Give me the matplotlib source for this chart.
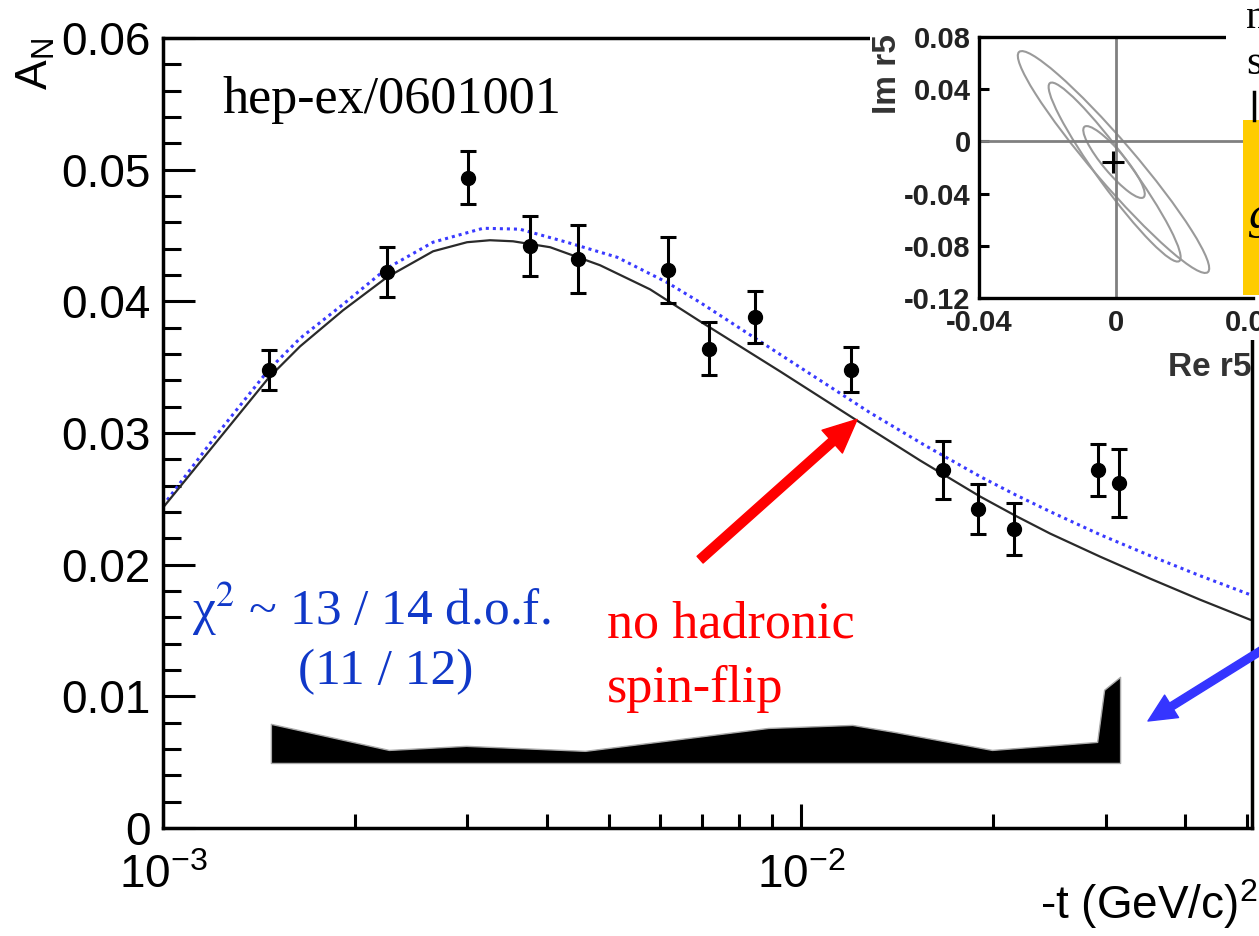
import matplotlib
matplotlib.use("Agg")
import matplotlib.pyplot as plt
from matplotlib.patches import Rectangle, Ellipse
from matplotlib.transforms import ScaledTranslation
from matplotlib.ticker import MultipleLocator, LogLocator, NullFormatter, FuncFormatter
from matplotlib.lines import Line2D

plt.rcParams['font.family'] = ['Liberation Sans', 'DejaVu Sans']
plt.rcParams['mathtext.fontset'] = 'custom'
plt.rcParams['mathtext.rm'] = 'Liberation Sans'
plt.rcParams['mathtext.it'] = 'Liberation Sans:italic'
plt.rcParams['mathtext.bf'] = 'Liberation Sans:bold'

# measured A_N vs -t
t_data = [1.466e-3, 2.244e-3, 3.006e-3, 3.76e-3, 4.47e-3, 6.19e-3, 7.18e-3,
          8.47e-3, 1.198e-2, 1.669e-2, 1.894e-2, 2.158e-2, 2.92e-2, 3.15e-2]
an_data = [0.0348, 0.0422, 0.0494, 0.0442, 0.0432, 0.0424, 0.0364,
           0.0388, 0.0348, 0.0272, 0.0242, 0.0227, 0.0272, 0.0262]
an_err = [0.0015, 0.0019, 0.0020, 0.0023, 0.0026, 0.0025, 0.0020,
          0.0020, 0.0017, 0.0022, 0.0019, 0.0020, 0.0020, 0.0026]

# CNI prediction without hadronic spin-flip
t_cni = [1.000e-3, 1.211e-3, 1.466e-3, 1.640e-3, 1.915e-3, 2.244e-3, 2.650e-3,
         2.996e-3, 3.254e-3, 3.537e-3, 4.043e-3, 4.842e-3, 5.799e-3, 6.946e-3,
         9.270e-3, 1.237e-2, 1.537e-2, 1.909e-2, 2.165e-2, 2.457e-2, 2.942e-2,
         3.524e-2, 4.220e-2, 5.056e-2]
an_cni = [0.02433, 0.02928, 0.03422, 0.03658, 0.03932, 0.04183, 0.04380,
          0.04449, 0.04464, 0.04456, 0.04411, 0.04274, 0.04091, 0.03848,
          0.03468, 0.03080, 0.02791, 0.02517, 0.02373, 0.02236, 0.02061,
          0.01894, 0.01734, 0.01582]

# fit with r5
t_r5 = [1.000e-3, 1.211e-3, 1.466e-3, 1.640e-3, 1.915e-3, 2.244e-3, 2.650e-3,
        3.175e-3, 3.624e-3, 4.293e-3, 5.148e-3, 6.163e-3, 6.946e-3, 9.270e-3,
        1.281e-2, 1.565e-2, 1.909e-2, 2.165e-2, 2.457e-2, 2.942e-2, 3.524e-2,
        4.220e-2, 5.056e-2]
an_r5 = [0.02449, 0.02981, 0.03483, 0.03719, 0.03977, 0.04251, 0.04449,
         0.04555, 0.04548, 0.04449, 0.04335, 0.04144, 0.03992, 0.03597,
         0.03156, 0.02905, 0.02669, 0.02532, 0.02403, 0.02228, 0.02068,
         0.01916, 0.01772]

# systematic error band
t_sys = [1.476e-3, 2.26e-3, 2.985e-3, 4.585e-3, 5.613e-3, 8.88e-3, 1.203e-2,
         1.399e-2, 1.992e-2, 2.911e-2, 2.985e-2, 3.162e-2]
sys_top = [0.00791, 0.00593, 0.00624, 0.00586, 0.00639, 0.00760, 0.00783,
           0.00730, 0.00593, 0.00654, 0.01050, 0.01148]
sys_base = 0.00494

# r5 fit result and error contours (centre in Re/Im, size in inches, angle)
r5_re = -0.0009
r5_im = -0.0158
contours = [(-0.00073, -0.0158, 2.90, 0.42, -49.4),
            (-0.00040, -0.0235, 2.20, 0.33, -54.0),
            (-0.00058, -0.0158, 0.92, 0.22, -50.0)]

W, H = 1259, 936


def fp(x, y):
    return x / W, 1 - y / H


fig = plt.figure(figsize=(12.59, 9.36), dpi=100)
ax = fig.add_axes([163 / W, 108 / H, 1089 / W, 790 / H])

ax.set_xscale('log')
ax.set_xlim(1e-3, 0.0509)
ax.set_ylim(0, 0.06)

ax.fill_between(t_sys, sys_base, sys_top, facecolor='black', edgecolor='#aaaaaa', lw=1)
ax.plot(t_r5, an_r5, color='#3a3aff', lw=2.2, ls=(0, (1, 1.3)))
ax.plot(t_cni, an_cni, color='#2a2a2a', lw=1.6)
ax.errorbar(t_data, an_data, yerr=an_err, fmt='o', color='black', ms=10,
            elinewidth=2.2, capsize=6, capthick=2.2)

for s in ax.spines.values():
    s.set_linewidth(2.5)

ax.yaxis.set_major_locator(MultipleLocator(0.01))
ax.yaxis.set_minor_locator(MultipleLocator(0.002))
ax.yaxis.set_major_formatter(FuncFormatter(lambda v, _: '0' if abs(v) < 1e-9 else f'{v:.2f}'))
ax.xaxis.set_major_locator(LogLocator(base=10, numticks=10))
ax.xaxis.set_minor_locator(LogLocator(base=10, subs=range(2, 10), numticks=20))
ax.xaxis.set_minor_formatter(NullFormatter())

ax.tick_params(which='both', direction='in', top=False, right=False, width=2.2,
               labelsize=33, colors='black')
ax.tick_params(axis='y', which='major', length=23, pad=9)
ax.tick_params(axis='y', which='minor', length=13)
ax.tick_params(axis='x', which='major', length=17, pad=19)
ax.tick_params(axis='x', which='minor', length=10)

ax.annotate('', xy=(1.224e-2, 0.03103), xytext=(6.946e-3, 0.02038),
            arrowprops=dict(color='red', width=6.5, headwidth=22, headlength=24, shrink=0))
ax.annotate('', xy=fp(1148, 721), xytext=fp(1262, 650),
            xycoords='figure fraction', textcoords='figure fraction',
            arrowprops=dict(color='#3535ff', width=5.5, headwidth=19, headlength=20, shrink=0))

serif = 'Liberation Serif'
fig.text(*fp(222, 113), 'hep-ex/0601001', family=serif, fontsize=37.5, va='baseline')
fig.text(*fp(192, 625), 'χ$^{2}$ ~ 13 / 14 d.o.f.', family=serif, math_fontfamily='stix',
         fontsize=37, color='#1038c8', va='baseline')
fig.text(*fp(298, 684), '(11 / 12)', family=serif, fontsize=37, color='#1038c8', va='baseline')
fig.text(*fp(607, 638), 'no hadronic', family=serif, fontsize=37.5, color='red', va='baseline')
fig.text(*fp(607, 702), 'spin-flip', family=serif, fontsize=37.5, color='red', va='baseline')

fig.text(*fp(36, 64), 'A$_{\\mathregular{N}}$', fontsize=32, rotation=90, ha='center', va='center')
fig.text(*fp(1257, 904), '-t (GeV/c)$^{2}$', fontsize=33, ha='right', va='center')

# blank area behind the inset
fig.add_artist(Rectangle(fp(870, 340), 389 / W, 340 / H, transform=fig.transFigure,
                         facecolor='white', edgecolor='none', zorder=1.5))

ax2 = fig.add_axes([979 / W, 638 / H, 274 / W, 261 / H])
ax2.set_zorder(2)
ax2.set_xlim(-0.04, 0.04)
ax2.set_ylim(-0.12, 0.08)
ax2.axvline(0, color='#808080', lw=2)
ax2.axhline(0, color='#808080', lw=2)
for cre, cim, w, h, ang in contours:
    tr = fig.dpi_scale_trans + ScaledTranslation(cre, cim, ax2.transData)
    ax2.add_patch(Ellipse((0, 0), w, h, angle=ang, transform=tr,
                          fill=False, edgecolor='#9a9a9a', lw=1.5))
ax2.plot([r5_re], [r5_im], marker='+', color='black', ms=16, mew=2.2)
for s in ax2.spines.values():
    s.set_linewidth(2.4)
ax2.spines['right'].set_visible(False)
ax2.set_yticks([-0.12, -0.08, -0.04, 0, 0.04, 0.08])
ax2.set_yticklabels(['-0.12', '-0.08', '-0.04', '0', '0.04', '0.08'])
ax2.set_xticks([-0.04, 0, 0.04])
ax2.set_xticklabels(['-0.04', '0', '0.04'])
ax2.tick_params(axis='y', direction='in', length=7, width=2.2, labelsize=21, pad=6)
ax2.tick_params(axis='x', length=0, labelsize=21, pad=8)
for lab in ax2.get_xticklabels() + ax2.get_yticklabels():
    lab.set_fontweight('bold')
    lab.set_color('#222222')
fig.text(*fp(887, 74), 'Im r5', fontsize=24, fontweight='bold', color='#333333',
         rotation=90, ha='center', va='center', zorder=3)
fig.text(*fp(1251, 367), 'Re r5', fontsize=24, fontweight='bold', color='#333333',
         ha='right', va='center', zorder=3)

# neighbouring slide material on the right edge
fig.add_artist(Rectangle(fp(1226, 118), 33 / W, 118 / H, transform=fig.transFigure,
                         facecolor='white', edgecolor='none', zorder=3))
fig.add_artist(Rectangle(fp(1243, 295), 16 / W, 175 / H, transform=fig.transFigure,
                         facecolor='#ffcc00', edgecolor='none', zorder=3))
fig.add_artist(Line2D([1254 / W, 1254 / W], [1 - 92 / H, 1 - 120 / H], transform=fig.transFigure,
                      color='black', lw=2.5, zorder=4))
fig.text(*fp(1246, 28), 'n', family=serif, fontsize=30, zorder=4, va='baseline')
fig.text(*fp(1246, 74), 's', family=serif, fontsize=30, zorder=4, va='baseline')
fig.text(*fp(1249, 228), 'g', family=serif, style='italic', fontsize=34, zorder=4, va='baseline')

fig.savefig('out.png', dpi=100, facecolor='white')
